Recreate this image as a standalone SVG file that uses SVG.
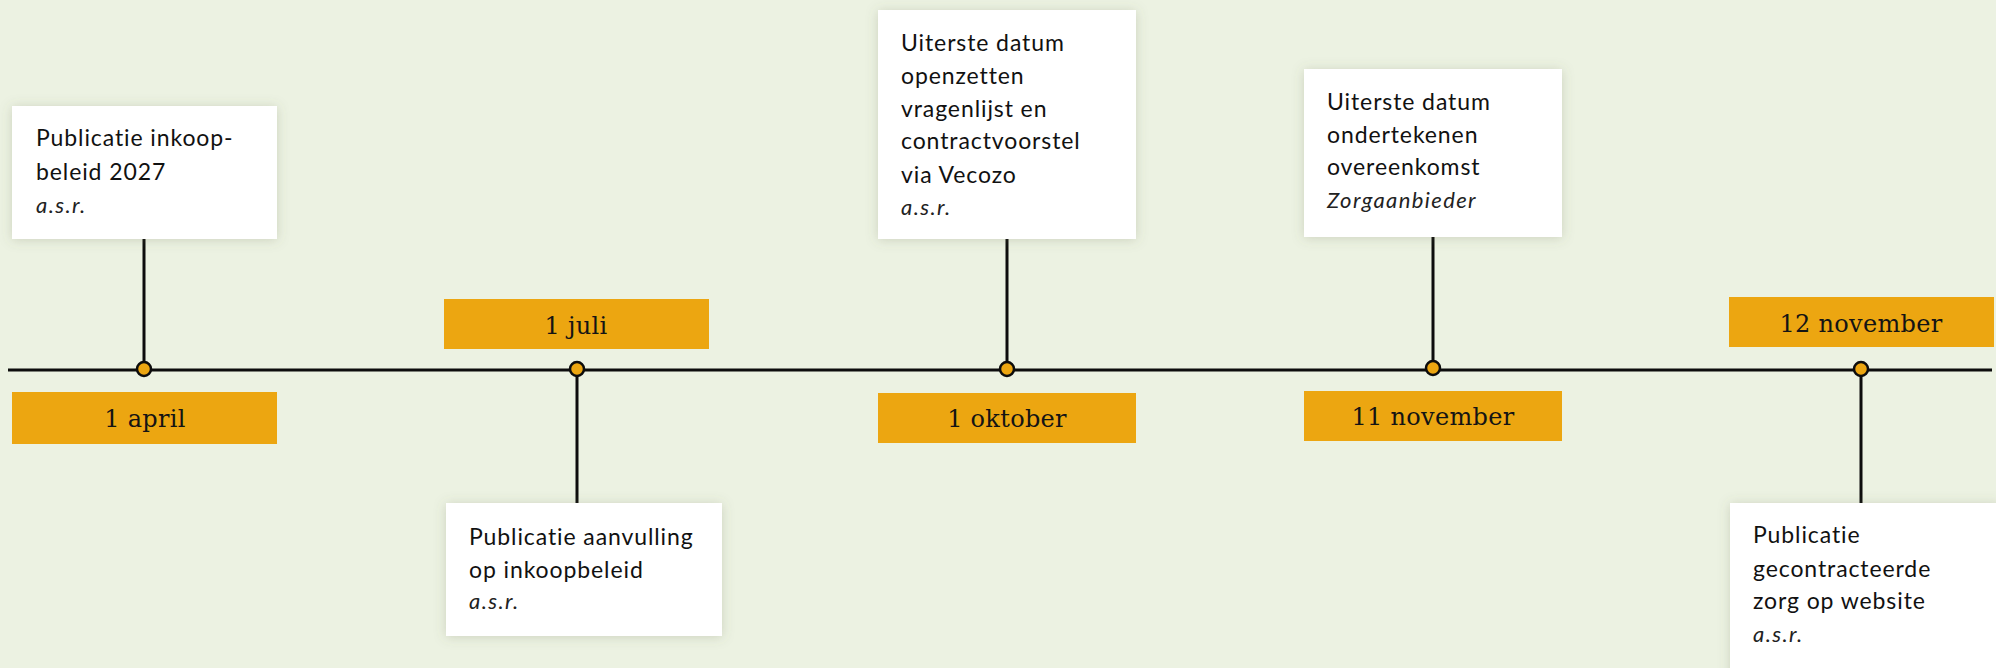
<svg xmlns="http://www.w3.org/2000/svg" width="1996" height="668" viewBox="0 0 1996 668">
<defs>
<filter id="sh" x="-20%" y="-20%" width="140%" height="140%">
<feDropShadow dx="0" dy="1" stdDeviation="6" flood-color="#6b7050" flood-opacity="0.25"/>
</filter>
<style>
.card{fill:#ffffff;filter:url(#sh)}
.date{fill:#eca611}
.t{font-family:Lato,"Noto Sans",sans-serif;font-size:23px;letter-spacing:0.9px;fill:#111}
.s{font-family:Lato,"Noto Sans",sans-serif;font-size:22px;font-style:italic;letter-spacing:1.4px;fill:#222}
.d{font-family:"DejaVu Serif",serif;font-size:24px;letter-spacing:0.3px;fill:#141414;text-anchor:middle}
.ln{stroke:#0d0d0d;stroke-width:3;fill:none}
.dot{fill:#eca611;stroke:#0d0d0d;stroke-width:2.5}
</style>
</defs>
<rect width="1996" height="668" fill="#ecf2e2"/>
<g id="connectors">
<line class="ln" x1="8" y1="370" x2="1992" y2="370"/>
<line class="ln" x1="144" y1="239" x2="144" y2="369"/>
<line class="ln" x1="577" y1="369" x2="577" y2="503"/>
<line class="ln" x1="1007" y1="239" x2="1007" y2="369"/>
<line class="ln" x1="1433" y1="237" x2="1433" y2="368"/>
<line class="ln" x1="1861" y1="369" x2="1861" y2="503"/>
</g>
<g id="n1">
<rect class="card" x="12" y="106" width="265" height="133"/>
<text class="t" x="36" y="146">Publicatie inkoop-</text>
<text class="t" x="36" y="180">beleid 2027</text>
<text class="s" x="36" y="213">a.s.r.</text>
<rect class="date" x="12" y="392" width="265" height="52"/>
<text class="d" x="145" y="427">1 april</text>
<circle class="dot" cx="144" cy="369" r="7"/>
</g>
<g id="n2">
<rect class="date" x="444" y="299" width="265" height="50"/>
<text class="d" x="576" y="334">1 juli</text>
<rect class="card" x="446" y="503" width="276" height="133"/>
<text class="t" x="469" y="545">Publicatie aanvulling</text>
<text class="t" x="469" y="578">op inkoopbeleid</text>
<text class="s" x="469" y="609">a.s.r.</text>
<circle class="dot" cx="577" cy="369" r="7"/>
</g>
<g id="n3">
<rect class="card" x="878" y="10" width="258" height="229"/>
<text class="t" x="901" y="51">Uiterste datum</text>
<text class="t" x="901" y="84">openzetten</text>
<text class="t" x="901" y="117">vragenlijst en</text>
<text class="t" x="901" y="149">contractvoorstel</text>
<text class="t" x="901" y="183">via Vecozo</text>
<text class="s" x="901" y="215">a.s.r.</text>
<rect class="date" x="878" y="393" width="258" height="50"/>
<text class="d" x="1007" y="427">1 oktober</text>
<circle class="dot" cx="1007" cy="369" r="7"/>
</g>
<g id="n4">
<rect class="card" x="1304" y="69" width="258" height="168"/>
<text class="t" x="1327" y="110">Uiterste datum</text>
<text class="t" x="1327" y="143">ondertekenen</text>
<text class="t" x="1327" y="175">overeenkomst</text>
<text class="s" x="1327" y="208">Zorgaanbieder</text>
<rect class="date" x="1304" y="391" width="258" height="50"/>
<text class="d" x="1433" y="425">11 november</text>
<circle class="dot" cx="1433" cy="368" r="7"/>
</g>
<g id="n5">
<rect class="date" x="1729" y="297" width="265" height="50"/>
<text class="d" x="1861" y="332">12 november</text>
<rect class="card" x="1730" y="503" width="270" height="190"/>
<text class="t" x="1753" y="543">Publicatie</text>
<text class="t" x="1753" y="577">gecontracteerde</text>
<text class="t" x="1753" y="609">zorg op website</text>
<text class="s" x="1753" y="642">a.s.r.</text>
<circle class="dot" cx="1861" cy="369" r="7"/>
</g>
</svg>
